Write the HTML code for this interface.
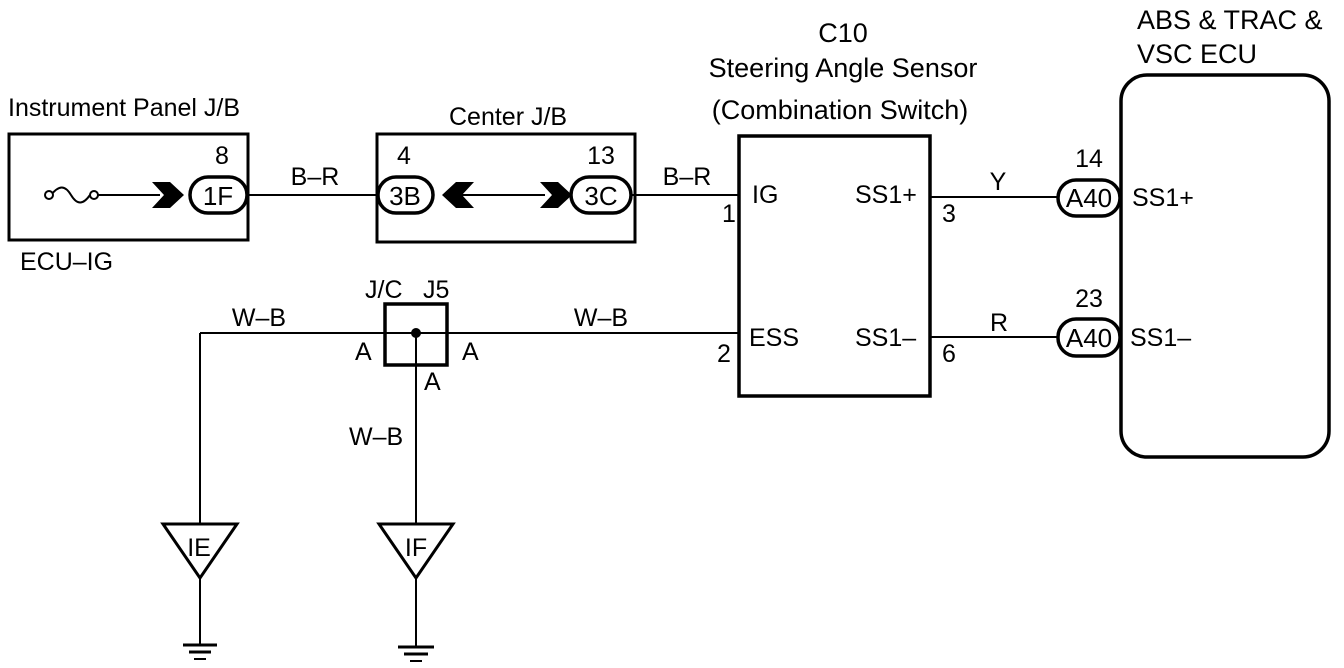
<!DOCTYPE html>
<html><head><style>
body{margin:0;background:#fff}
svg{display:block}
text{font-family:"Liberation Sans",Arial,sans-serif;font-size:25px;fill:#000}
.t{font-size:27px}
.o{font-size:26px;text-anchor:middle}
.m{text-anchor:middle}
</style></head><body>
<svg width="1344" height="668" viewBox="0 0 1344 668" xmlns="http://www.w3.org/2000/svg">
<g fill="none" stroke="#000" stroke-width="3">
<rect x="9" y="134" width="239" height="106"/>
<rect x="377" y="134" width="258" height="108"/>
<rect x="739" y="136" width="191" height="260" stroke-width="3.5"/>
<rect x="1121" y="75" width="208" height="382" rx="26" stroke-width="3.5"/>
<rect x="385" y="304" width="62" height="61" stroke-width="3.5"/>
</g>
<g fill="none" stroke="#000" stroke-width="2">
<line x1="248" y1="195" x2="377" y2="195"/>
<line x1="94" y1="195" x2="160" y2="195"/>
<line x1="446" y1="195" x2="545" y2="195"/>
<line x1="632" y1="195" x2="739" y2="195"/>
<line x1="930" y1="197" x2="1058" y2="197"/>
<line x1="930" y1="337" x2="1058" y2="337"/>
<line x1="200" y1="333" x2="739" y2="333"/>
<line x1="200" y1="333" x2="200" y2="523"/>
<line x1="416" y1="333" x2="416" y2="523"/>
<line x1="200" y1="578" x2="200" y2="644"/>
<line x1="416" y1="578" x2="416" y2="646"/>
<path d="M51 195 c8 -10 14 -10 20 0 s12 10 19 0"/>
</g>
<g fill="#fff" stroke="#000" stroke-width="2">
<circle cx="49" cy="195" r="4"/><circle cx="94" cy="195" r="4"/>
</g>
<circle cx="416" cy="333" r="5" fill="#000"/>
<g fill="#000">
<polygon points="152,182 170,182 184,195 170,208 152,208 164,195"/>
<polygon points="540,182 558,182 572,195 558,208 540,208 552,195"/>
<polygon points="474,182 456,182 442,195 456,208 474,208 462,195"/>
</g>
<g fill="#fff" stroke="#000" stroke-width="3.5">
<rect x="190" y="177" width="57" height="36" rx="18"/>
<rect x="378" y="177" width="55" height="36" rx="18"/>
<rect x="571" y="177" width="60" height="36" rx="18"/>
<rect x="1058" y="180" width="62" height="36" rx="18"/>
<rect x="1058" y="319" width="62" height="37" rx="18"/>
</g>
<g fill="none" stroke="#000" stroke-width="3">
<polygon points="163,524 237,524 200,578"/>
<polygon points="379,524 453,524 416,578"/>
<line x1="183" y1="645" x2="217" y2="645"/>
<line x1="189" y1="652" x2="211" y2="652"/>
<line x1="194" y1="659" x2="206" y2="659" stroke-width="2"/>
<line x1="398" y1="647" x2="434" y2="647"/>
<line x1="404" y1="654" x2="428" y2="654"/>
<line x1="410" y1="661" x2="422" y2="661" stroke-width="2"/>
</g>
<g>
<text x="8" y="116">Instrument Panel J/B</text>
<text x="449" y="125">Center J/B</text>
<text class="t m" x="843" y="42">C10</text>
<text class="t m" x="843" y="77">Steering Angle Sensor</text>
<text class="t m" x="840" y="119">(Combination Switch)</text>
<text class="t" x="1137" y="29">ABS &amp; TRAC &amp;</text>
<text class="t" x="1137" y="63">VSC ECU</text>
<text class="m" x="222" y="164">8</text>
<text class="o" x="218" y="205">1F</text>
<text class="m" x="315" y="185">B–R</text>
<text class="m" x="404" y="164">4</text>
<text class="o" x="405" y="205">3B</text>
<text class="m" x="601" y="164">13</text>
<text class="o" x="601" y="205">3C</text>
<text class="m" x="687" y="185">B–R</text>
<text x="20" y="270">ECU–IG</text>
<text x="752" y="203">IG</text>
<text x="722" y="222">1</text>
<text x="855" y="203">SS1+</text>
<text x="942" y="222">3</text>
<text class="m" x="998" y="190">Y</text>
<text class="m" x="1089" y="167">14</text>
<text class="o" x="1089" y="207">A40</text>
<text x="1132" y="206">SS1+</text>
<text x="749" y="346">ESS</text>
<text x="717" y="362">2</text>
<text x="855" y="346">SS1–</text>
<text x="942" y="362">6</text>
<text class="m" x="999" y="331">R</text>
<text class="m" x="1089" y="307">23</text>
<text class="o" x="1089" y="347">A40</text>
<text x="1130" y="346">SS1–</text>
<text x="365" y="298">J/C</text>
<text x="423" y="298">J5</text>
<text class="m" x="259" y="326">W–B</text>
<text class="m" x="601" y="326">W–B</text>
<text x="355" y="360">A</text>
<text x="462" y="360">A</text>
<text x="424" y="390">A</text>
<text x="349" y="445">W–B</text>
<text class="m" x="199" y="556">IE</text>
<text class="m" x="416" y="556">IF</text>
</g>
</svg>
</body></html>
